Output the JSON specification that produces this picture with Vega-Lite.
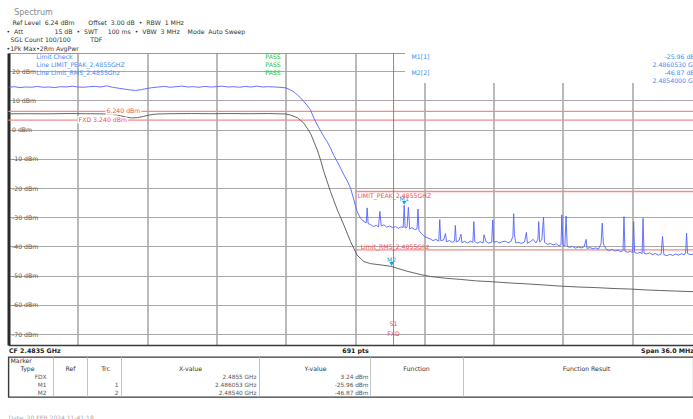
{
  "$schema": "https://vega.github.io/schema/vega-lite/v6.json",
  "background": "white",
  "padding": {"left": 6.5, "top": 9, "right": 0, "bottom": 0},
  "config": {"font": "DejaVu Sans", "view": {"stroke": null}, "concat": {"spacing": 1}},
  "title": {
    "text": "\u200b\u00a0\u00a0\u00a0Spectrum",
    "subtitle": ["\u200b\u00a0\u00a0\u00a0Ref Level\u00a0\u00a06.24 dBm\u00a0\u00a0\u00a0\u00a0\u00a0\u00a0\u00a0Offset\u00a0\u00a03.00 dB\u00a0\u00a0\u2022\u00a0\u00a0RBW\u00a0\u00a01 MHz", "\u2022\u00a0\u00a0Att\u00a0\u00a0\u00a0\u00a0\u00a0\u00a0\u00a0\u00a0\u00a0\u00a0\u00a0\u00a0\u00a0\u00a0\u00a0\u00a015 dB\u00a0\u00a0\u2022\u00a0\u00a0SWT\u00a0\u00a0\u00a0\u00a0\u00a0100 ms\u00a0\u00a0\u2022\u00a0\u00a0VBW\u00a0\u00a03 MHz\u00a0\u00a0\u00a0\u00a0Mode\u00a0\u00a0Auto Sweep", "\u200b\u00a0\u00a0SGL Count 100/100\u00a0\u00a0\u00a0\u00a0\u00a0\u00a0\u00a0\u00a0\u00a0\u00a0TDF", "\u20221Pk Max\u20222Rm AvgPwr"],
    "anchor": "start", "frame": "group", "fontSize": 8, "fontWeight": "normal", "color": "#8a8a8a",
    "subtitleFontSize": 6.2, "subtitleColor": "#333333", "subtitleLineHeight": 8.5, "subtitlePadding": 3, "offset": 0, "dx": -2
  },
  "resolve": {"scale": {"x": "independent", "y": "independent"}},
  "vconcat": [
    {
      "width": 685,
      "height": 292,
      "view": {"stroke": "#9a9a9a", "strokeWidth": 1},
      "encoding": {
        "x": {"field": "f", "type": "quantitative",
          "scale": {"domain": [2465.5, 2501.08], "nice": false, "zero": false},
          "axis": {"title": null, "values": [2465.5, 2469.1, 2472.7, 2476.3, 2479.9, 2483.5, 2487.1, 2490.7, 2494.3, 2497.9, 2501.08],
            "grid": true, "gridColor": "#8c8c8c", "gridWidth": 1.2,
            "gridOpacity": {"condition": {"test": "datum.value > 2501", "value": 0}, "value": 1},
            "ticks": false, "domain": true, "domainColor": "#3a3a3a", "domainWidth": 1.5,
            "labelExpr": "abs(datum.value - 2465.5) < 0.01 ? 'CF 2.4835 GHz' : (abs(datum.value - 2483.5) < 0.01 ? '691 pts' : (datum.value > 2501 ? 'Span 36.0 MHz' : ''))",
            "labelFlush": true, "labelOverlap": false, "labelBound": false, "labelFontSize": 6.3, "labelFontWeight": "bold", "labelColor": "#222222", "labelPadding": 2}},
        "y": {"field": "d", "type": "quantitative",
          "scale": {"domain": [-73.76, 26.24], "nice": false, "zero": false},
          "axis": {"title": null, "values": [-70, -60, -50, -40, -30, -20, -10, 0, 10, 20],
            "grid": true, "gridColor": "#a9a9a9", "gridWidth": 1.2, "ticks": false,
            "domain": true, "domainColor": "#2a2a2a", "domainWidth": 3,
            "labelAlign": "left", "labelPadding": -3, "labelBaseline": "middle",
            "labelExpr": "datum.value + ' dBm'", "labelFontSize": 6.2, "labelColor": "#555555"}}
      },
      "layer": [
        {
          "data": {"values": [{"f": 2486.1, "f2": 2501.08, "d": 16.0, "d2": 26.24}]},
          "mark": {"type": "rect", "fill": "white"},
          "encoding": {"x2": {"field": "f2"}, "y2": {"field": "d2"}}
        },
        {
          "data": {"values": [
            {"f": 2465.5, "f2": 2501.08, "d": 6.24},
            {"f": 2465.5, "f2": 2501.08, "d": 3.24},
            {"f": 2483.5, "f2": 2501.08, "d": -21.2},
            {"f": 2483.5, "f2": 2501.08, "d": -41.2}
          ]},
          "mark": {"type": "rule", "color": "#f28c8c", "strokeWidth": 1.4},
          "encoding": {"x2": {"field": "f2"}}
        },
        {
          "data": {"values": [{"f": 2485.5, "d": -73.76, "d2": 26.24}]},
          "mark": {"type": "rule", "color": "#e23c3c", "strokeWidth": 0.8},
          "encoding": {"y2": {"field": "d2"}}
        },
        {
          "data": {"values": [
            {"f": 2465.5, "d": 5.4}, {"f": 2466.5, "d": 5.45}, {"f": 2467.5, "d": 5.4}, {"f": 2468.5, "d": 5.5},
            {"f": 2469.5, "d": 5.45}, {"f": 2470.3, "d": 5.4}, {"f": 2470.8, "d": 5.3}, {"f": 2471.2, "d": 4.9},
            {"f": 2471.6, "d": 4.3}, {"f": 2471.9, "d": 4.0}, {"f": 2472.2, "d": 4.1}, {"f": 2472.5, "d": 4.5},
            {"f": 2472.8, "d": 5.0}, {"f": 2473.2, "d": 5.35}, {"f": 2474.0, "d": 5.45}, {"f": 2475.0, "d": 5.5},
            {"f": 2476.0, "d": 5.45}, {"f": 2477.0, "d": 5.5}, {"f": 2478.0, "d": 5.45}, {"f": 2479.0, "d": 5.5},
            {"f": 2479.9, "d": 5.35}, {"f": 2480.15, "d": 5.0}, {"f": 2480.5, "d": 4.1}, {"f": 2480.84, "d": 2.2},
            {"f": 2481.19, "d": -1.3}, {"f": 2481.54, "d": -7.0}, {"f": 2481.71, "d": -10.4}, {"f": 2481.88, "d": -14.4},
            {"f": 2482.23, "d": -21.3}, {"f": 2482.58, "d": -27.5}, {"f": 2482.92, "d": -32.7}, {"f": 2483.27, "d": -38.4},
            {"f": 2483.61, "d": -43.0}, {"f": 2483.96, "d": -45.2}, {"f": 2484.31, "d": -45.9}, {"f": 2484.9, "d": -46.4},
            {"f": 2485.4, "d": -46.87}, {"f": 2486.2, "d": -48.5}, {"f": 2487.01, "d": -49.8}, {"f": 2487.42, "d": -50.3},
            {"f": 2488.2, "d": -50.9}, {"f": 2488.98, "d": -51.3}, {"f": 2489.8, "d": -51.8}, {"f": 2490.64, "d": -52.1},
            {"f": 2491.5, "d": -52.5}, {"f": 2492.36, "d": -52.8}, {"f": 2493.3, "d": -53.2}, {"f": 2494.18, "d": -53.6},
            {"f": 2495.1, "d": -53.9}, {"f": 2495.99, "d": -54.1}, {"f": 2496.9, "d": -54.4}, {"f": 2497.81, "d": -54.6},
            {"f": 2498.6, "d": -54.9}, {"f": 2499.37, "d": -55.1}, {"f": 2500.2, "d": -55.3}, {"f": 2501.08, "d": -55.5}
          ]},
          "mark": {"type": "line", "color": "#555555", "strokeWidth": 0.9, "clip": true}
        },
        {
          "data": {"values": [
            {"f": 2465.5, "d": 14.5}, {"f": 2465.8, "d": 14.7}, {"f": 2466.1, "d": 14.4}, {"f": 2466.4, "d": 14.6},
            {"f": 2466.7, "d": 14.5}, {"f": 2467.0, "d": 14.8}, {"f": 2467.3, "d": 14.5}, {"f": 2467.6, "d": 14.6},
            {"f": 2467.9, "d": 14.4}, {"f": 2468.2, "d": 14.7}, {"f": 2468.5, "d": 14.6}, {"f": 2468.8, "d": 14.9},
            {"f": 2469.1, "d": 14.6}, {"f": 2469.4, "d": 14.5}, {"f": 2469.7, "d": 14.7}, {"f": 2470.0, "d": 14.8},
            {"f": 2470.3, "d": 14.6}, {"f": 2470.6, "d": 15.0}, {"f": 2470.9, "d": 14.5}, {"f": 2471.2, "d": 14.2},
            {"f": 2471.5, "d": 13.9}, {"f": 2471.8, "d": 13.6}, {"f": 2472.1, "d": 13.4}, {"f": 2472.4, "d": 13.7},
            {"f": 2472.7, "d": 14.1}, {"f": 2473.0, "d": 14.4}, {"f": 2473.3, "d": 14.6}, {"f": 2473.6, "d": 14.8},
            {"f": 2473.9, "d": 14.5}, {"f": 2474.2, "d": 14.7}, {"f": 2474.5, "d": 14.9}, {"f": 2474.8, "d": 14.6},
            {"f": 2475.1, "d": 14.7}, {"f": 2475.4, "d": 14.5}, {"f": 2475.7, "d": 14.8}, {"f": 2476.0, "d": 14.6},
            {"f": 2476.3, "d": 14.7}, {"f": 2476.6, "d": 14.9}, {"f": 2476.9, "d": 14.6}, {"f": 2477.2, "d": 14.7},
            {"f": 2477.5, "d": 14.5}, {"f": 2477.8, "d": 14.8}, {"f": 2478.1, "d": 14.6}, {"f": 2478.4, "d": 14.9},
            {"f": 2478.7, "d": 14.6}, {"f": 2479.0, "d": 14.7}, {"f": 2479.3, "d": 14.6}, {"f": 2479.6, "d": 14.5},
            {"f": 2479.9, "d": 14.3}, {"f": 2480.15, "d": 13.6}, {"f": 2480.33, "d": 12.9}, {"f": 2480.5, "d": 11.9},
            {"f": 2480.67, "d": 10.9}, {"f": 2480.84, "d": 9.6}, {"f": 2481.0, "d": 8.4}, {"f": 2481.19, "d": 6.7},
            {"f": 2481.36, "d": 4.0}, {"f": 2481.54, "d": 1.6}, {"f": 2481.7, "d": -0.3}, {"f": 2481.88, "d": -2.4},
            {"f": 2482.05, "d": -4.1}, {"f": 2482.23, "d": -6.4}, {"f": 2482.4, "d": -8.9}, {"f": 2482.58, "d": -11.0},
            {"f": 2482.75, "d": -13.2}, {"f": 2482.92, "d": -15.5}, {"f": 2483.1, "d": -17.6}, {"f": 2483.27, "d": -20.1},
            {"f": 2483.44, "d": -24.1}, {"f": 2483.61, "d": -28.1}, {"f": 2483.79, "d": -30.4}, {"f": 2483.96, "d": -31.5},
            {"f": 2484.08, "d": -31.9}, {"f": 2484.13, "d": -26.8}, {"f": 2484.18, "d": -32.2}, {"f": 2484.31, "d": -32.5},
            {"f": 2484.45, "d": -33.2}, {"f": 2484.6, "d": -32.8}, {"f": 2484.72, "d": -33.3}, {"f": 2484.79, "d": -28.0},
            {"f": 2484.86, "d": -33.0}, {"f": 2485.0, "d": -32.6}, {"f": 2485.15, "d": -33.4}, {"f": 2485.3, "d": -33.0},
            {"f": 2485.45, "d": -33.6}, {"f": 2485.6, "d": -33.2}, {"f": 2485.75, "d": -33.8}, {"f": 2485.9, "d": -33.3},
            {"f": 2486.0, "d": -33.5}, {"f": 2486.053, "d": -25.96}, {"f": 2486.1, "d": -33.7}, {"f": 2486.2, "d": -33.4},
            {"f": 2486.27, "d": -26.6}, {"f": 2486.34, "d": -34.0}, {"f": 2486.45, "d": -33.6}, {"f": 2486.6, "d": -34.2},
            {"f": 2486.72, "d": -34.0}, {"f": 2486.77, "d": -27.2}, {"f": 2486.82, "d": -34.5}, {"f": 2486.95, "d": -35.6},
            {"f": 2487.1, "d": -36.6}, {"f": 2487.25, "d": -37.0}, {"f": 2487.4, "d": -37.4}, {"f": 2487.55, "d": -38.0},
            {"f": 2487.7, "d": -37.6}, {"f": 2487.85, "d": -38.2}, {"f": 2487.9, "d": -30.8}, {"f": 2487.95, "d": -38.0},
            {"f": 2488.1, "d": -37.8}, {"f": 2488.2, "d": -35.6}, {"f": 2488.25, "d": -38.4}, {"f": 2488.4, "d": -38.0},
            {"f": 2488.55, "d": -38.6}, {"f": 2488.67, "d": -38.2}, {"f": 2488.71, "d": -32.8}, {"f": 2488.76, "d": -38.5},
            {"f": 2488.9, "d": -38.0}, {"f": 2489.0, "d": -35.8}, {"f": 2489.05, "d": -38.7}, {"f": 2489.2, "d": -38.3},
            {"f": 2489.35, "d": -38.8}, {"f": 2489.5, "d": -38.2}, {"f": 2489.62, "d": -38.6}, {"f": 2489.67, "d": -31.5},
            {"f": 2489.72, "d": -38.4}, {"f": 2489.85, "d": -38.9}, {"f": 2490.0, "d": -38.4}, {"f": 2490.15, "d": -38.8},
            {"f": 2490.2, "d": -36.0}, {"f": 2490.3, "d": -38.3}, {"f": 2490.45, "d": -38.9}, {"f": 2490.6, "d": -38.5},
            {"f": 2490.65, "d": -31.0}, {"f": 2490.7, "d": -38.6}, {"f": 2490.85, "d": -38.3}, {"f": 2491.0, "d": -38.8},
            {"f": 2491.15, "d": -38.4}, {"f": 2491.3, "d": -38.2}, {"f": 2491.45, "d": -38.7}, {"f": 2491.6, "d": -38.3},
            {"f": 2491.7, "d": -36.5}, {"f": 2491.74, "d": -28.8}, {"f": 2491.78, "d": -36.0}, {"f": 2491.85, "d": -38.8},
            {"f": 2492.0, "d": -38.6}, {"f": 2492.15, "d": -39.0}, {"f": 2492.3, "d": -38.5}, {"f": 2492.4, "d": -35.2},
            {"f": 2492.45, "d": -38.9}, {"f": 2492.6, "d": -38.4}, {"f": 2492.75, "d": -37.6}, {"f": 2492.9, "d": -38.8},
            {"f": 2493.0, "d": -37.5}, {"f": 2493.04, "d": -31.5}, {"f": 2493.09, "d": -38.5}, {"f": 2493.2, "d": -37.8},
            {"f": 2493.29, "d": -30.0}, {"f": 2493.34, "d": -38.6}, {"f": 2493.5, "d": -39.3}, {"f": 2493.65, "d": -39.0},
            {"f": 2493.8, "d": -39.5}, {"f": 2493.95, "d": -39.1}, {"f": 2494.1, "d": -39.8}, {"f": 2494.2, "d": -39.4},
            {"f": 2494.24, "d": -29.2}, {"f": 2494.3, "d": -39.6}, {"f": 2494.4, "d": -39.8}, {"f": 2494.46, "d": -29.6},
            {"f": 2494.52, "d": -40.0}, {"f": 2494.65, "d": -40.3}, {"f": 2494.8, "d": -40.0}, {"f": 2494.95, "d": -40.6},
            {"f": 2495.1, "d": -40.2}, {"f": 2495.25, "d": -40.5}, {"f": 2495.4, "d": -40.1}, {"f": 2495.5, "d": -37.6},
            {"f": 2495.55, "d": -40.7}, {"f": 2495.7, "d": -40.4}, {"f": 2495.85, "d": -40.8}, {"f": 2496.0, "d": -40.5},
            {"f": 2496.15, "d": -40.9}, {"f": 2496.28, "d": -39.0}, {"f": 2496.34, "d": -32.0}, {"f": 2496.4, "d": -39.2},
            {"f": 2496.55, "d": -41.0}, {"f": 2496.7, "d": -41.4}, {"f": 2496.85, "d": -41.0}, {"f": 2497.0, "d": -41.6},
            {"f": 2497.15, "d": -41.3}, {"f": 2497.3, "d": -41.8}, {"f": 2497.42, "d": -41.4}, {"f": 2497.47, "d": -29.8},
            {"f": 2497.52, "d": -41.6}, {"f": 2497.65, "d": -42.0}, {"f": 2497.8, "d": -41.7}, {"f": 2497.92, "d": -42.1},
            {"f": 2497.97, "d": -31.5}, {"f": 2498.02, "d": -42.0}, {"f": 2498.15, "d": -42.4}, {"f": 2498.3, "d": -42.0},
            {"f": 2498.41, "d": -42.5}, {"f": 2498.46, "d": -30.4}, {"f": 2498.51, "d": -42.3}, {"f": 2498.65, "d": -42.6},
            {"f": 2498.8, "d": -42.2}, {"f": 2498.95, "d": -42.8}, {"f": 2499.1, "d": -42.4}, {"f": 2499.25, "d": -43.0},
            {"f": 2499.4, "d": -42.6}, {"f": 2499.47, "d": -36.6}, {"f": 2499.54, "d": -42.8}, {"f": 2499.7, "d": -43.2},
            {"f": 2499.85, "d": -42.7}, {"f": 2500.0, "d": -43.1}, {"f": 2500.15, "d": -42.6}, {"f": 2500.3, "d": -43.0},
            {"f": 2500.45, "d": -42.5}, {"f": 2500.6, "d": -42.9}, {"f": 2500.67, "d": -42.2}, {"f": 2500.72, "d": -35.5},
            {"f": 2500.77, "d": -42.4}, {"f": 2500.9, "d": -42.8}, {"f": 2501.08, "d": -42.6}
          ]},
          "mark": {"type": "line", "color": "#5263ff", "strokeWidth": 0.9, "clip": true}
        },
        {
          "data": {"values": [{"f": 2486.053, "d": -25.96}, {"f": 2485.4, "d": -46.87}]},
          "mark": {"type": "point", "shape": "triangle-down", "filled": true, "size": 20, "color": "#1d9be0", "opacity": 1, "yOffset": -2.5}
        },
        {
          "data": {"values": [{"f": 2486.053, "d": -25.96, "t": "M1"}, {"f": 2485.4, "d": -46.87, "t": "M2"}]},
          "mark": {"type": "text", "align": "center", "baseline": "bottom", "dy": -3, "fontSize": 6.2, "color": "#1d9be0"},
          "encoding": {"text": {"field": "t"}}
        },
        {
          "data": {"values": [
            {"f": 2466.94, "d": 24.87, "t": "Limit Check"},
            {"f": 2466.94, "d": 22.13, "t": "Line LIMIT_PEAK_2.4855GHZ"},
            {"f": 2466.94, "d": 19.39, "t": "Line Limit_RMS_2.4855Ghz"},
            {"f": 2486.43, "d": 24.87, "t": "M1[1]"},
            {"f": 2486.43, "d": 19.39, "t": "M2[2]"}
          ]},
          "mark": {"type": "text", "align": "left", "baseline": "middle", "fontSize": 6.2, "color": "#3d8bf5"},
          "encoding": {"text": {"field": "t"}}
        },
        {
          "data": {"values": [
            {"f": 2479.24, "d": 24.87, "t": "PASS"},
            {"f": 2479.24, "d": 22.13, "t": "PASS"},
            {"f": 2479.24, "d": 19.39, "t": "PASS"}
          ]},
          "mark": {"type": "text", "align": "center", "baseline": "middle", "fontSize": 6.2, "color": "#22c022"},
          "encoding": {"text": {"field": "t"}}
        },
        {
          "data": {"values": [
            {"f": 2501.45, "d": 24.87, "t": "-25.96 dBm"},
            {"f": 2501.45, "d": 22.13, "t": "2.4860530 GHz"},
            {"f": 2501.45, "d": 19.39, "t": "-46.87 dBm"},
            {"f": 2501.45, "d": 16.65, "t": "2.4854000 GHz"}
          ]},
          "mark": {"type": "text", "align": "right", "baseline": "middle", "fontSize": 6.2, "color": "#3d8bf5", "clip": true},
          "encoding": {"text": {"field": "t"}}
        },
        {
          "data": {"values": [
            {"f": 2470.59, "d": 6.24, "t": "6.240 dBm"},
            {"f": 2469.14, "d": 3.24, "t": "FXD  3.240 dBm"}
          ]},
          "mark": {"type": "text", "align": "left", "baseline": "middle", "fontSize": 6.2, "color": "white", "stroke": "white", "strokeWidth": 3},
          "encoding": {"text": {"field": "t"}}
        },
        {
          "data": {"values": [
            {"f": 2470.59, "d": 6.24, "t": "6.240 dBm"},
            {"f": 2469.14, "d": 3.24, "t": "FXD  3.240 dBm"}
          ]},
          "mark": {"type": "text", "align": "left", "baseline": "middle", "fontSize": 6.2, "color": "#f05050"},
          "encoding": {"text": {"field": "t"}}
        },
        {
          "data": {"values": [{"f": 2483.63, "d": -21.2, "t": "LIMIT_PEAK_2.4855GHZ"}]},
          "mark": {"type": "text", "align": "left", "baseline": "top", "dy": 1.5, "fontSize": 6.2, "color": "#f05050"},
          "encoding": {"text": {"field": "t"}}
        },
        {
          "data": {"values": [{"f": 2483.79, "d": -41.2, "t": "Limit_RMS_2.4855Ghz"}]},
          "mark": {"type": "text", "align": "left", "baseline": "bottom", "dy": 0, "fontSize": 6.2, "color": "#f05050"},
          "encoding": {"text": {"field": "t"}}
        },
        {
          "data": {"values": [
            {"f": 2485.5, "d": -66.6, "t": "S1"},
            {"f": 2485.5, "d": -70.0, "t": "FXD"},
            {"f": 2501.25, "d": -66.6, "t": "S2"}
          ]},
          "mark": {"type": "text", "align": "center", "baseline": "middle", "fontSize": 6.2, "color": "#f05050", "clip": true},
          "encoding": {"text": {"field": "t"}}
        }
      ]
    },
    {
      "width": 685,
      "height": 40,
      "view": {"stroke": "#3a3a3a", "strokeWidth": 1.4},
      "title": {"text": "Date: 20.FEB.2024   11:41:18", "orient": "bottom", "anchor": "start", "fontSize": 6, "fontWeight": "normal", "color": "#aaaaaa", "offset": 18},
      "resolve": {"scale": {"x": "independent"}},
      "layer": [
        {
          "data": {"values": [{"c": 0}, {"c": 1}, {"c": 2}, {"c": 3}, {"c": 4}, {"c": 5}]},
          "mark": {"type": "rule", "color": "#b4b4b4", "strokeWidth": 0.8},
          "encoding": {"x": {"field": "c", "type": "quantitative", "scale": {"domain": [0, 1, 2, 3, 4, 5], "range": [45, 79, 113, 251, 362, 455]}, "axis": null}}
        },
        {
          "data": {"values": [{"c": 0, "r": "Marker", "t": "Marker"}]},
          "mark": {"type": "text", "align": "left", "baseline": "middle", "fontSize": 6.2, "color": "#333333"},
          "encoding": {
            "x": {"field": "c", "type": "quantitative", "scale": {"domain": [0, 1], "range": [2, 3]}, "axis": null},
            "y": {"field": "r", "type": "nominal", "scale": {"type": "point", "domain": ["Marker", "hdr", "FDX", "M1", "M2"], "range": [4, 36], "padding": 0}, "axis": null},
            "text": {"field": "t"}}
        },
        {
          "data": {"values": [
            {"c": 0, "r": "hdr", "t": "Type"}, {"c": 1, "r": "hdr", "t": "Ref"}, {"c": 2, "r": "hdr", "t": "Trc"},
            {"c": 3, "r": "hdr", "t": "X-value"}, {"c": 4, "r": "hdr", "t": "Y-value"}, {"c": 5, "r": "hdr", "t": "Function"},
            {"c": 6, "r": "hdr", "t": "Function Result"}
          ]},
          "mark": {"type": "text", "align": "center", "baseline": "middle", "fontSize": 6.2, "color": "#333333"},
          "encoding": {
            "x": {"field": "c", "type": "quantitative", "scale": {"domain": [0, 1, 2, 3, 4, 5, 6], "range": [19, 62, 97, 182, 307, 408, 578]}, "axis": null},
            "y": {"field": "r", "type": "nominal", "scale": {"type": "point", "domain": ["Marker", "hdr", "FDX", "M1", "M2"], "range": [4, 36], "padding": 0}, "axis": null},
            "text": {"field": "t"}}
        },
        {
          "data": {"values": [
            {"c": 0, "r": "FDX", "t": "FDX"}, {"c": 3, "r": "FDX", "t": "2.4855 GHz"}, {"c": 4, "r": "FDX", "t": "3.24 dBm"},
            {"c": 0, "r": "M1", "t": "M1"}, {"c": 2, "r": "M1", "t": "1"}, {"c": 3, "r": "M1", "t": "2.486053 GHz"}, {"c": 4, "r": "M1", "t": "-25.96 dBm"},
            {"c": 0, "r": "M2", "t": "M2"}, {"c": 2, "r": "M2", "t": "2"}, {"c": 3, "r": "M2", "t": "2.48540 GHz"}, {"c": 4, "r": "M2", "t": "-46.87 dBm"}
          ]},
          "mark": {"type": "text", "align": "right", "baseline": "middle", "fontSize": 5.8, "color": "#555555"},
          "encoding": {
            "x": {"field": "c", "type": "quantitative", "scale": {"domain": [0, 2, 3, 4], "range": [38, 110, 248, 360]}, "axis": null},
            "y": {"field": "r", "type": "nominal", "scale": {"type": "point", "domain": ["Marker", "hdr", "FDX", "M1", "M2"], "range": [4, 36], "padding": 0}, "axis": null},
            "text": {"field": "t"}}
        }
      ]
    }
  ]
}
